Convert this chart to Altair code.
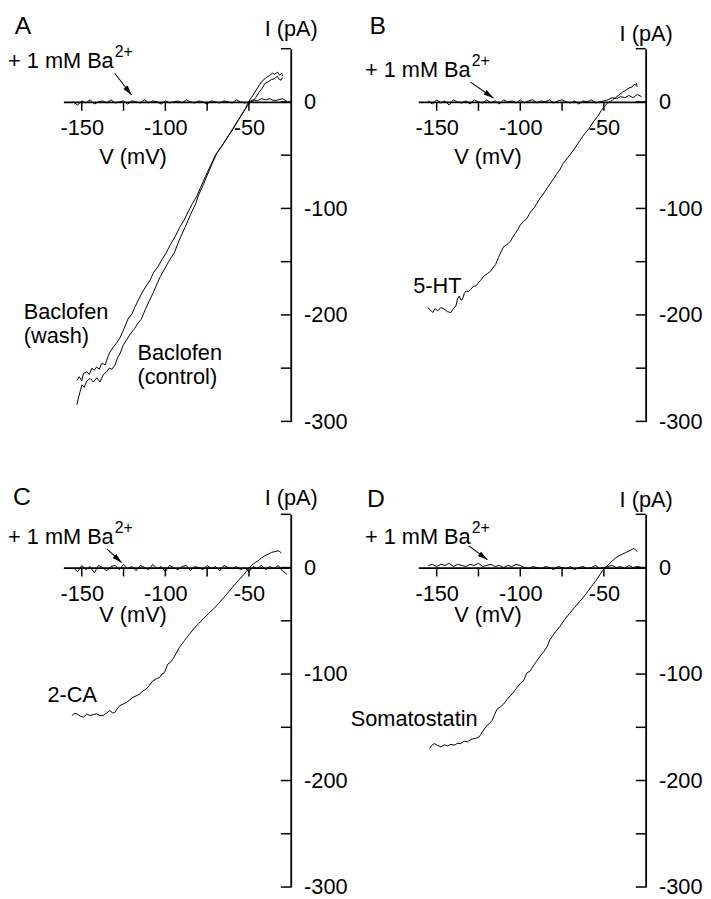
import altair as alt
import pandas as pd

# ---------------- data ----------------
# Voltage grid for the Ba2+ traces (mV)
BA_V = [-155, -152.5, -150, -147.5, -145, -142.5, -140, -137.5, -135, -132.5,
        -130, -127.5, -125, -122.5, -120, -117.5, -115, -112.5, -110, -107.5,
        -105, -102.5, -100, -97.5, -95, -92.5, -90, -87.5, -85, -82.5,
        -80, -77.5, -75, -72.5, -70, -67.5, -65, -62.5, -60, -57.5,
        -55, -52.5, -50, -47.5, -45, -42.5, -40, -37.5, -35, -32.5,
        -30, -27.5]
BA_A = [0, -3, 1, -1, 2, -2, 0, 1, -1, 2, -1, 0, 1, -2, 1, 0, -1, 2, -1, 1,
        0, -2, 1, -1, 0, 1, -1, 2, 0, -1, 1, 0, -2, 1, 0, -1, 1, 0, -1, 2,
        0, -1, 0, 2, 1, 3, 2, 3, 1, 2, 3, 1]
BA_B = [1, -2, 2, -1, 1, -3, 2, 0, -1, 1, -2, 2, 0, -1, 2, -1, 1, -2, 2, 0,
        1, -1, 2, -1, 1, 2, -1, 1, 0, 2, -1, 1, 2, 0, -1, 1, -2, 1, 0, 2,
        -1, 0, 1, 2, 4, 3, 5, 4, 6, 4, 7, 5]
BA_C = [0, -4, 2, -2, 1, -5, 2, 0, -3, 1, 2, -2, 3, -1, 1, -3, 2, 0, -2, 3,
        -1, 1, -4, 2, 0, -2, 1, 2, -3, 1, 0, -2, 2, -1, 1, -3, 2, 0, -1, 1,
        -2, 0, -4, 1, -1, 2, -2, 1, -1, 2, -3, -6]
BA_D = [2, 3, 1, 3, 2, 4, 1, 3, 2, 1, 3, 2, 4, 1, 2, 3, 1, 2, 0, 2,
        1, 3, 2, 0, -1, 1, 0, -1, 1, 0, -2, 1, 0, -1, 1, -2, 0, 1, -1, 0,
        2, -1, 0, 1, 2, 0, 1, -1, 2, 0, 1, 0]

A_WASH_V = [-152.9, -151.5, -150, -149, -147, -145.5, -144, -142.5, -141.1, -139.5,
            -138.2, -137.2, -136, -135.1, -134, -133.2, -131, -129, -127, -125,
            -122.4, -120, -118, -115.5, -113.5, -111.5, -109, -107, -104.5, -102,
            -99.6, -97, -94, -91.5, -88.8, -86, -83.9, -81, -78.9, -76,
            -73, -70.1, -67, -64, -60.4, -57, -54, -52, -50.3, -48.5,
            -46.5, -44.5, -42.5, -41, -39.5, -37.5, -36, -34.5, -33, -31.6,
            -30.5, -29.8]
A_WASH_I = [-261.5, -258, -262, -255, -253.5, -256, -250, -252, -248.9, -251,
            -246, -245.8, -247, -242.7, -238, -234.9, -230, -226, -221, -214,
            -204, -199, -192, -184, -178, -173, -167, -160, -155, -148,
            -142, -134, -126, -118, -111, -102, -95.6, -88, -80.2, -70,
            -60, -50, -43, -36, -27.6, -19, -11, -6, 0, 4,
            9, 14, 19, 21, 23, 25, 27, 26, 28, 25,
            27, 24]

A_CTRL_V = [-152.9, -152, -151, -149.9, -148.5, -147, -145, -143, -141, -139.1,
            -137, -135.1, -133.5, -132, -130.2, -128.5, -127, -125.3, -123, -121,
            -118.5, -116.5, -114.4, -112, -110, -107.5, -105.6, -103, -100.5, -98,
            -96.5, -94.7, -92.5, -90.8, -88, -85, -81.9, -80, -78, -75,
            -72, -69.5, -66, -62, -58, -54, -51, -49, -47.4, -46,
            -44, -42, -40.5, -38.5, -36.5, -34.6, -33, -31.8, -30.8, -30]
A_CTRL_I = [-284.4, -278, -272, -265.8, -268, -262, -259.7, -263, -259, -263,
            -256, -253.5, -250, -251, -247.3, -240, -236, -228.7, -223, -218,
            -213, -208, -204, -195, -188, -180, -173, -164, -157, -150,
            -146, -142, -133, -126.6, -117, -106, -95.6, -87, -80.2, -69,
            -58, -49, -41, -31, -21, -11, -4, 0, 1, 4,
            9, 13, 17.3, 19, 21, 22, 24, 21, 20.4, 23]

B_5HT_V = [-155.3, -154, -152.3, -151, -149.4, -147.5, -145.4, -143.5, -141.5, -140,
           -138.5, -137.5, -136.5, -135.5, -134.6, -133.5, -132.6, -131, -129.6, -128,
           -126.7, -124, -121.8, -119.5, -117.8, -116, -114.8, -113, -111.9, -109.9,
           -108, -106, -104.5, -103, -101.5, -100.1, -98, -96.1, -94.5, -93.1,
           -91.5, -90.2, -88, -86.2, -84, -82.3, -80, -78.3, -76.5, -74.4,
           -71.5, -68.5, -65.5, -62.6, -60.5, -58.6, -56, -53.7, -51.5, -49.8,
           -47.8, -46, -44.8, -43, -40.9, -39, -36.9, -35, -33, -32,
           -31, -30.5, -30]
B_5HT_I = [-193.1, -195, -197.8, -194, -196.2, -193, -194.7, -197, -197.8, -194,
           -191.6, -185, -182.3, -186, -185.4, -180, -177.6, -178, -176.1, -173,
           -173, -168, -163.7, -161, -159.1, -155, -152.9, -146, -142.1, -135.9,
           -134, -131.2, -127, -123.5, -120, -115.8, -112, -109.6, -105, -101.8,
           -99, -95.6, -90, -86.4, -81, -77.1, -72, -67.8, -64, -58,
           -52, -46.1, -39, -32.2, -28, -24.5, -18, -13.6, -8, -4.3,
           -1.2, 0.5, 1.9, 4, 6.5, 9, 11.1, 13, 14.2, 16.5,
           15.8, 17.3, 14.2]

C_2CA_V = [-155.9, -154.5, -152.9, -151, -149, -147, -145, -143, -141.1, -139,
           -137.2, -135, -133.2, -131.5, -130.2, -128.5, -127.3, -125, -123.3, -121.5,
           -119.4, -117.5, -115.4, -113.5, -111.5, -109.5, -107.6, -105.5, -103.6, -102,
           -100.6, -99.5, -98.7, -97, -95.7, -93.5, -91.8, -88.5, -85.9, -83,
           -79.9, -77, -74, -71, -68.1, -65, -62.2, -59, -56.3, -53,
           -50.3, -48.8, -47.4, -46, -44.4, -42.5, -40.5, -38.5, -36.6, -34.5,
           -32.6, -31.5, -30.6]
C_2CA_I = [-139, -137, -137.4, -139.5, -140.5, -137.5, -139, -138, -137.4, -139,
           -139, -136.5, -134.3, -136.5, -135.9, -132, -129.7, -128, -126.6, -124.5,
           -121.9, -120.5, -118.8, -116, -114.2, -110.5, -106.5, -104.5, -103.4, -100,
           -98.7, -94.5, -91, -89, -86.4, -80.5, -75.5, -68.5, -63.1, -57.5,
           -52.3, -47.5, -43, -38.5, -33.7, -28, -22.9, -17, -12.1, -6.5,
           -1.2, 1.5, 3.4, 5, 6.5, 9, 11.1, 12.5, 14.2, 15,
           15.8, 15, 13.6]

D_SOM_V = [-154.3, -153, -151.4, -149.5, -147.4, -145.5, -143.4, -141.5, -139.5, -137.5,
           -135.6, -133.5, -131.6, -129.5, -127.7, -126, -124.7, -123.5, -122.7, -121,
           -119.8, -118.5, -116.8, -115.5, -113.8, -112, -109.9, -108, -106, -104,
           -102, -100, -98.1, -96.1, -94.1, -92, -90.2, -88.5, -86.2, -84,
           -82.3, -79.5, -76.4, -73.5, -70.5, -67.5, -64.6, -62.5, -60.6, -57.5,
           -54.7, -52.5, -50.7, -48.8, -46.8, -44.8, -43, -40.9, -39, -36.9,
           -35, -33, -32, -31, -30]
D_SOM_I = [-169.9, -167, -165.3, -167, -168.4, -166.5, -167.4, -166, -166.8, -165,
           -165.3, -163, -163.7, -161.5, -160.6, -160, -159.1, -156.5, -154.4, -150.5,
           -148.2, -146.5, -143.6, -138.5, -132.8, -131, -128.1, -124, -120.4, -117,
           -112.7, -109, -106.5, -99, -97.2, -92, -87.9, -84, -79.5, -74.5,
           -67.8, -61.5, -55.4, -49, -43, -37.5, -32.2, -28.5, -24.5, -18,
           -12.1, -7, -2.8, 0.3, 3.5, 6.5, 9, 11.1, 12.5, 14.2,
           15.5, 17.3, 18, 16.4, 15.2]

X_TICKS = [-150, -125, -100, -75, -50]
X_LABELS = [-150, -100, -50]
Y_TICKS = [50, 0, -50, -100, -150, -200, -250, -300]
Y_LABELS = [0, -100, -200, -300]

# ---------------- styling ----------------
W, H = 230, 377
VMIN, VMAX = -161, -25
IMIN, IMAX = -300, 50
FONT = "Liberation Sans"
FS = 22
Z0 = H * IMAX / (IMAX - IMIN)          # pixel row of I = 0
ARROW_PATH = "M0,0L0.55,2L-0.55,2Z"


def panel(traces, ba_i, letter, letter_pos, ba_pos, labels, arrow, angle,
          xtitle_y, ytitle_y):
    xs = alt.Scale(domain=[VMIN, VMAX], nice=False, zero=False)
    ys = alt.Scale(domain=[IMIN, IMAX], nice=False, zero=False)
    x_enc = alt.X("V:Q", scale=xs, axis=alt.Axis(
        orient="bottom", offset=-(H - Z0), values=X_LABELS,
        labelExpr="'' + datum.value", ticks=False, tickSize=0,
        domain=True, domainColor="black", domainWidth=1.8,
        labelPadding=16, labelFontSize=FS, labelFont=FONT, labelColor="black",
        labelFlush=False, labelOverlap=False, grid=False,
        title="V (mV)", titleX=70, titleY=xtitle_y, titleAlign="center",
        titleBaseline="middle", titleFontSize=FS, titleFont=FONT,
        titleFontWeight="normal", titleColor="black"))
    y_enc = alt.Y("I:Q", scale=ys, axis=alt.Axis(
        orient="right", values=Y_LABELS, labelExpr="'' + datum.value",
        ticks=False, tickSize=0, domain=True, domainColor="black",
        domainWidth=1.8, labelPadding=13, labelFontSize=FS, labelFont=FONT,
        labelColor="black", labelFlush=False, labelOverlap=False, grid=False,
        title="I (pA)", titleAngle=0, titleX=0, titleY=ytitle_y,
        titleAlign="center", titleBaseline="middle", titleFontSize=FS,
        titleFont=FONT, titleFontWeight="normal", titleColor="black"))

    rows = []
    for name, vs, is_ in traces + [("Ba", BA_V, ba_i)]:
        for k, (v, i) in enumerate(zip(vs, is_)):
            rows.append({"trace": name, "idx": k, "V": v, "I": i})
    lines = alt.Chart(pd.DataFrame(rows)).mark_line(
        color="black", strokeWidth=1.0).encode(
        x=x_enc, y=y_enc, detail="trace:N", order="idx:Q")

    xt = alt.Chart(pd.DataFrame({"V": X_TICKS})).mark_rule(
        color="black", strokeWidth=1.5).encode(
        x=x_enc, y=alt.value(Z0), y2=alt.value(Z0 + 9))
    yt = alt.Chart(pd.DataFrame({"I": Y_TICKS})).mark_rule(
        color="black", strokeWidth=1.5).encode(
        y=y_enc, x=alt.value(W - 10), x2=alt.value(W))

    layers = [lines, xt, yt]

    for (v, i, txt, align) in labels:
        layers.append(alt.Chart(pd.DataFrame({"V": [v], "I": [i], "t": [txt]}))
                      .mark_text(align=align, baseline="alphabetic", fontSize=FS,
                                 font=FONT, color="black", lineBreak="\n",
                                 lineHeight=24)
                      .encode(x=x_enc, y=y_enc, text="t:N"))

    bdf = pd.DataFrame({"V": [ba_pos[0]], "I": [ba_pos[1]],
                        "t": ["+ 1 mM Ba"], "s": ["2+"]})
    layers.append(alt.Chart(bdf).mark_text(
        align="left", baseline="alphabetic", fontSize=FS, font=FONT,
        color="black").encode(x=x_enc, y=y_enc, text="t:N"))
    layers.append(alt.Chart(bdf).mark_text(
        align="left", baseline="alphabetic", fontSize=16, font=FONT,
        color="black", dx=108, dy=-11).encode(x=x_enc, y=y_enc, text="s:N"))

    adf = pd.DataFrame({"V": arrow[0], "I": arrow[1], "k": [0, 1]})
    layers.append(alt.Chart(adf).mark_line(color="black", strokeWidth=1.1)
                  .encode(x=x_enc, y=y_enc, order="k:Q"))
    layers.append(alt.Chart(adf.iloc[[1]]).mark_point(
        shape=ARROW_PATH, filled=True, color="black", opacity=1, size=100,
        angle=angle).encode(x=x_enc, y=y_enc))

    ldf = pd.DataFrame({"V": [letter_pos[0]], "I": [letter_pos[1]], "t": [letter]})
    layers.append(alt.Chart(ldf).mark_text(
        align="center", baseline="top", fontSize=25, font=FONT,
        color="black").encode(x=x_enc, y=y_enc, text="t:N"))

    return alt.layer(*layers).properties(width=W, height=H)


pA = panel([("wash", A_WASH_V, A_WASH_I), ("control", A_CTRL_V, A_CTRL_I)], BA_A,
           "A", (-185.2, 82.5), (-194.1, 31.6),
           [(-184.7, -204.3, "Baclofen\n(wash)", "left"),
            (-116.7, -242.3, "Baclofen\n(control)", "left")],
           ([-130.3, -120.2], [26.9, 6.5]), 142, 55, -20)
pB = panel([("5-HT", B_5HT_V, B_5HT_I)], BA_B,
           "B", (-185.2, 82.5), (-192.9, 23.2),
           [(-164.0, -179.2, "5-HT", "left")],
           ([-129.7, -116.1], [18.6, 3.7]), 125, 55, -15)
pC = panel([("2-CA", C_2CA_V, C_2CA_I)], BA_C,
           "C", (-185.8, 76.9), (-194.1, 22.3),
           [(-170.5, -126.3, "2-CA", "left")],
           ([-135.0, -126.1], [17.6, 4.6]), 133, 48, -17)
pD = panel([("Somatostatin", D_SOM_V, D_SOM_I)], BA_D,
           "D", (-186.4, 75.0), (-192.9, 22.3),
           [(-125.5, -148.5, "Somatostatin", "right")],
           ([-130.8, -119.6], [20.4, 7.4]), 126, 48, -15)

chart = alt.concat(
    pA, pB, pC, pD, columns=2,
    spacing={"row": 94, "column": 129}, bounds="flush",
).properties(padding=0).configure(
    font=FONT, background="white"
).configure_view(stroke="transparent", strokeWidth=0)

chart.save("out.html", embed_options={"renderer": "svg", "actions": False})
